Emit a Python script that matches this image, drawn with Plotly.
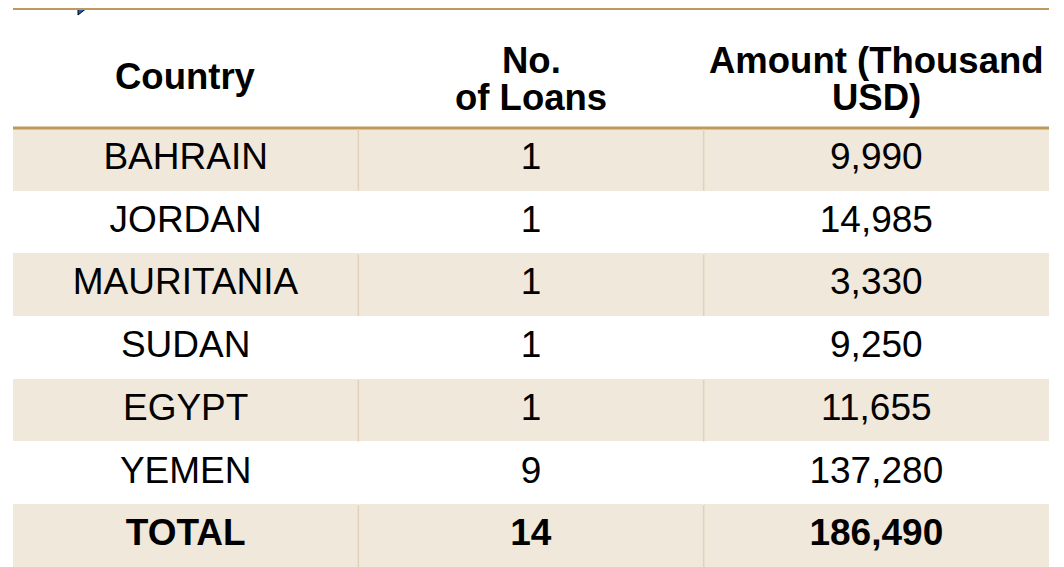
import plotly.graph_objects as go

# ---- data ----
countries = ["BAHRAIN", "JORDAN", "MAURITANIA", "SUDAN", "EGYPT", "YEMEN", "TOTAL"]
num_loans = [1, 1, 1, 1, 1, 9, 14]
amount_kusd = [9990, 14985, 3330, 9250, 11655, 137280, 186490]
header_lines = [["Country"], ["No.", "of Loans"], ["Amount (Thousand", "USD)"]]

# ---- styling ----
# the page body has an 8px margin, so the figure is sized to fit the window
W, H = 1056, 559
M_L, M_R, M_T, M_B = 5, 15, 0, 0
HEADER_H = 120
ROW_H = 62.7
SHADE = "#F0E8DB"
TAN = "#BE995B"
VLINE = "#E2D1B6"
FONT = "Liberation Sans, Arial, sans-serif"
FS = 37
FS_H = 36.5
BODY_DROP = 3.5          # px the body text is lowered to sit centred in its row
HEAD_LINE_CENTERS = {1: [68], 2: [53, 89]}   # px below the top rule, per line count


def cell(text, bold=False):
    # <sub> with a fixed em size lowers the text by 0.3em; the inner span restores the size.
    # trailing <br> keeps the table from re-wrapping the markup on spaces
    t = f"<b>{text}</b>" if bold else text
    em = BODY_DROP / 0.3
    return (f"<sub style='font-size:{em:.2f}px !important'>"
            f"<span style='font-size:{FS}px'>{t}</span></sub><br>")


n = len(countries)
is_total = [c == "TOTAL" for c in countries]
col_country = [cell(c, b) for c, b in zip(countries, is_total)]
col_loans = [cell(f"{v:,}", b) for v, b in zip(num_loans, is_total)]
col_amount = [cell(f"{v:,}", b) for v, b in zip(amount_kusd, is_total)]

row_fill = [SHADE if i % 2 == 0 else "white" for i in range(n)]

fig = go.Figure(go.Table(
    columnwidth=[1, 1, 1],
    header=dict(
        values=["", "", ""],
        height=HEADER_H,
        fill_color="white",
        line=dict(width=0, color="white"),
        font=dict(family=FONT, size=FS_H, color="black"),
    ),
    cells=dict(
        values=[col_country, col_loans, col_amount],
        height=ROW_H,
        fill_color=[row_fill] * 3,
        line=dict(width=0, color=[row_fill] * 3),
        align="center",
        font=dict(family=FONT, size=FS, color="black"),
    ),
))

plot_h = H - M_T - M_B
plot_w = W - M_L - M_R
ncol = len(header_lines)


def yp(px):  # px below the top of the plot area -> paper y
    return 1 - px / plot_h


def xp(px):  # px right of the plot area's left edge -> paper x
    return px / plot_w


# header labels, one line each so every line is centred in its column
annotations = []
for k, lines in enumerate(header_lines):
    for line, cy in zip(lines, HEAD_LINE_CENTERS[len(lines)]):
        annotations.append(dict(
            text=f"<b>{line}</b>", xref="paper", yref="paper",
            x=(k + 0.5) / ncol, y=yp(cy), xanchor="center", yanchor="middle",
            showarrow=False, font=dict(family=FONT, size=FS_H, color="black"),
        ))

shapes = []
# small blue corner marker at the top-left
shapes.append(dict(type="path", xref="paper", yref="paper",
                   path=f"M {xp(65)},{yp(-8)} L {xp(84)},{yp(-8)} L {xp(65)},{yp(7)} Z",
                   fillcolor="#1F5FBF", line=dict(color="black", width=1)))
# tan rules above and below the header
for yy in (0.5, HEADER_H):
    shapes.append(dict(type="line", xref="paper", yref="paper", x0=0, x1=1,
                       y0=yp(yy), y1=yp(yy), line=dict(color=TAN, width=3), layer="above"))
# column separators in shaded rows
for i in range(n):
    if row_fill[i] != "white":
        top = HEADER_H + i * ROW_H + 1
        for k in range(1, ncol):
            shapes.append(dict(type="line", xref="paper", yref="paper", x0=k / ncol, x1=k / ncol,
                               y0=yp(top), y1=yp(top + ROW_H - 1),
                               line=dict(color=VLINE, width=1.5), layer="above"))

fig.update_layout(
    width=W, height=H,
    margin=dict(l=M_L, r=M_R, t=M_T, b=M_B, pad=0),
    paper_bgcolor="white", plot_bgcolor="white",
    shapes=shapes, annotations=annotations,
)
fig.write_html("out.html")
